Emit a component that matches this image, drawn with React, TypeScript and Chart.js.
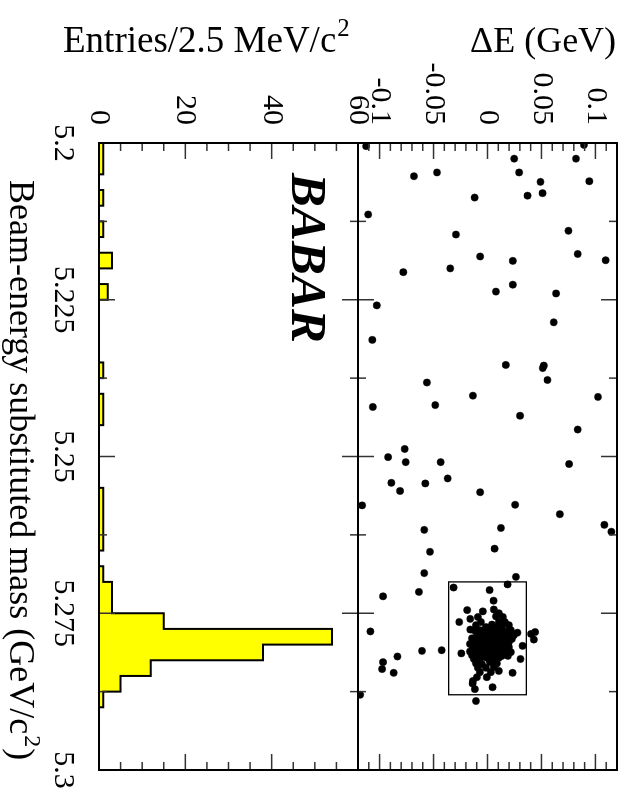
import { useEffect, useRef } from 'react';
import { Chart, registerables } from 'chart.js';

Chart.register(...registerables);

// ---- data ----
const massMin = 5.2;
const massMax = 5.3;
const massBinWidth = 0.0025;
const entriesPerBin = [
  1, 1, 0, 1, 0, 1, 0, 3, 0, 2,
  0, 0, 0, 0, 1, 0, 1, 1, 0, 0,
  0, 0, 1, 1, 1, 1, 0, 1, 3, 3,
  15, 54, 38, 12, 5, 1, 0, 0, 0, 0,
];
const massTicks = [5.2, 5.225, 5.25, 5.275, 5.3];
const entriesTicks = [0, 20, 40, 60];
const deltaETicks = [-0.1, -0.05, 0, 0.05, 0.1];
const entriesRange = [0, 60];
const deltaERange = [-0.12, 0.12];

// [mES (GeV/c^2), DeltaE (GeV)]
const sidebandEvents: [number, number][] = [
  [5.2005, -0.1125], [5.2003, 0.0894], [5.2025, 0.0247], [5.2025, 0.082], [5.2053, -0.0681],
  [5.2047, -0.0468], [5.2047, 0.0293], [5.2062, 0.0491], [5.2061, 0.0944], [5.2087, -0.0119],
  [5.2084, 0.0371], [5.208, 0.051], [5.2114, -0.1106], [5.214, 0.075], [5.2146, -0.0292],
  [5.2181, -0.0068], [5.2188, 0.0235], [5.2177, 0.0836], [5.2187, 0.1095], [5.2206, -0.078],
  [5.22, -0.0345], [5.2226, 0.0235], [5.2237, 0.0078], [5.224, 0.0635], [5.2259, -0.1026],
  [5.2286, 0.0614], [5.2314, -0.1067], [5.2354, 0.017], [5.2355, 0.0522], [5.2359, 0.0512],
  [5.2378, 0.0556], [5.2382, -0.0561], [5.2403, -0.0135], [5.2405, 0.1024], [5.2421, -0.1063],
  [5.2418, -0.0484], [5.2435, 0.0302], [5.2457, 0.0836], [5.2488, -0.0767], [5.2501, -0.0921],
  [5.2509, -0.0758], [5.2509, -0.0434], [5.2512, 0.0756], [5.2542, -0.0891], [5.2543, -0.0576],
  [5.2535, -0.0369], [5.2555, -0.081], [5.2557, -0.0068], [5.2578, -0.1162], [5.2577, 0.0256],
  [5.2592, 0.067], [5.2609, 0.1083], [5.262, 0.1148], [5.2617, -0.0586], [5.2614, 0.0124],
  [5.2652, -0.0533], [5.2647, 0.0066], [5.2686, -0.0586], [5.2692, 0.0263],
  [5.2704, 0.0186], [5.2709, -0.0314], [5.2713, 0.0019], [5.2723, -0.0968], [5.2716, -0.0635],
  [5.273, 0.0056], [5.2779, -0.1085], [5.281, -0.0607], [5.2809, -0.0425], [5.2819, -0.0835],
  [5.2828, -0.0968], [5.2839, -0.0977], [5.2845, -0.0869], [5.288, -0.118], [5.289, -0.0107],
  [5.2868, 0.0047], [5.2845, 0.0232], [5.2823, 0.0306], [5.2802, 0.0325], [5.2783, 0.0404],
  [5.278, 0.0441], [5.2792, 0.0429], [5.2781, 0.0278], [5.2764, -0.0262], [5.2745, -0.0188],
  [5.2759, -0.016], [5.2776, -0.016], [5.2814, -0.0243], [5.2871, -0.0117], [5.2862, -0.0138],
];

const signalEvents: [number, number][] = [
  [5.2747, -0.0043], [5.2744, 0.0059], [5.275, 0.0105], [5.2756, -0.0089], [5.2756, 0.0142], [5.2755, 0.0078],
  [5.2764, -0.0061], [5.2769, -0.0107], [5.2768, 0.0041], [5.2764, 0.0105], [5.2764, 0.0161], [5.2772, -0.0015],
  [5.2772, 0.0068], [5.2771, 0.0133], [5.2769, 0.0198],
  [5.2777, -0.0126], [5.2777, -0.007], [5.2777, -0.0024], [5.2775, 0.0022], [5.2777, 0.0068], [5.2775, 0.0115],
  [5.2779, 0.0161], [5.2777, 0.0216],
  [5.2784, -0.0098], [5.2784, -0.0043], [5.2782, 0.0004], [5.2784, 0.005], [5.2784, 0.0096], [5.2785, 0.0142],
  [5.2784, 0.0189], [5.2785, 0.0244],
  [5.279, -0.0144], [5.279, -0.008], [5.279, -0.0024], [5.2788, 0.0022], [5.279, 0.0078], [5.2791, 0.0124],
  [5.279, 0.017], [5.2791, 0.0226],
  [5.2795, -0.0117], [5.2796, -0.0061], [5.2795, -0.0006], [5.2795, 0.005], [5.2796, 0.0096], [5.2796, 0.0152],
  [5.2796, 0.0198],
  [5.2799, -0.0163], [5.2799, -0.0089], [5.2799, -0.0033], [5.2799, 0.0022], [5.2799, 0.0068], [5.2801, 0.0115],
  [5.2799, 0.0179],
  [5.2787, 0.0004], [5.278, 0.0059], [5.2793, 0.0087], [5.2793, -0.0052], [5.2791, 0.0031], [5.2798, -0.0015],
  [5.2793, 0.0142],
  [5.2804, -0.0135], [5.2804, -0.008], [5.2806, -0.0024], [5.2804, 0.0031], [5.2804, 0.0087], [5.2806, 0.0142],
  [5.2804, 0.0198],
  [5.2811, -0.0163], [5.2811, -0.0107], [5.2812, -0.0052], [5.2811, 0.0004], [5.2811, 0.0059], [5.2812, 0.0115],
  [5.2811, 0.017],
  [5.2817, -0.0144], [5.2817, -0.0089], [5.2818, -0.0033], [5.2817, 0.0022], [5.2817, 0.0078], [5.2818, 0.0133],
  [5.2823, -0.0126], [5.2823, -0.007], [5.2821, -0.0006], [5.2823, 0.005], [5.2821, 0.0105],
  [5.2812, 0.0216], [5.2818, 0.0189], [5.2807, 0.0013], [5.2814, 0.0068], [5.2807, -0.0061],
  [5.283, -0.0107], [5.2831, -0.0052], [5.2828, 0.0022], [5.283, 0.0087], [5.2837, -0.0089], [5.2837, -0.0015],
  [5.2836, 0.0059], [5.2844, -0.007], [5.2844, 0.0031], [5.2842, 0.0105],
  [5.2852, -0.0098], [5.2852, -0.0006], [5.2858, -0.0135],
];

const signalBox = { massLow: 5.27, massHigh: 5.288, deLow: -0.036, deHigh: 0.036 };

const massMinorStep = 0.0125;
const entriesMinorStep = 5;
const deltaEMinorStep = 0.01;

const serif = "'Liberation Serif', 'Times New Roman', serif";

function buildHistogram() {
  const pts: { x: number; y: number }[] = [];
  entriesPerBin.forEach((v, i) => {
    pts.push({ x: massMin + i * massBinWidth, y: v });
    pts.push({ x: massMin + (i + 1) * massBinWidth, y: v });
  });
  pts.push({ x: massMax, y: 0 });
  return pts;
}

const decorPlugin = {
  id: 'decor',
  afterDraw(chart: any) {
    const ctx: CanvasRenderingContext2D = chart.ctx;
    const xs = chart.scales.x;
    const yh = chart.scales.y;
    const yd = chart.scales.yde;
    const line = (x1: number, y1: number, x2: number, y2: number) => {
      ctx.beginPath();
      ctx.moveTo(x1, y1);
      ctx.lineTo(x2, y2);
      ctx.stroke();
    };
    ctx.save();
    ctx.strokeStyle = '#333';
    // ticks
    ctx.lineWidth = 1.5;
    const nMass = Math.round((massMax - massMin) / massMinorStep);
    for (let k = 0; k <= nMass; k++) {
      const px = xs.getPixelForValue(massMin + k * massMinorStep);
      const len = k % 2 === 0 ? 16 : 8;
      line(px, yh.bottom, px, yh.bottom - len);
      line(px, yh.top - len, px, yh.top + len);
      line(px, yd.top, px, yd.top + len);
    }
    for (let v = entriesRange[0]; v <= entriesRange[1]; v += entriesMinorStep) {
      const py = yh.getPixelForValue(v);
      const len = v % 20 === 0 ? 16 : 8;
      line(xs.left, py, xs.left + len, py);
      line(xs.right, py, xs.right - len, py);
    }
    const nDe = Math.round((deltaERange[1] - deltaERange[0]) / deltaEMinorStep);
    for (let k = 0; k <= nDe; k++) {
      const v = deltaERange[0] + k * deltaEMinorStep;
      const r = v / 0.05;
      const major = Math.abs(r - Math.round(r)) < 1e-6;
      const py = yd.getPixelForValue(v);
      const len = major ? 16 : 8;
      line(xs.left, py, xs.left + len, py);
      line(xs.right, py, xs.right - len, py);
    }
    // frames
    ctx.strokeStyle = '#000';
    ctx.lineWidth = 2;
    ctx.strokeRect(xs.left, yd.top, xs.right - xs.left, yh.bottom - yd.top);
    line(xs.left, yh.top, xs.right, yh.top);
    // signal box
    ctx.lineWidth = 1.3;
    const bx1 = xs.getPixelForValue(signalBox.massLow);
    const bx2 = xs.getPixelForValue(signalBox.massHigh);
    const by1 = yd.getPixelForValue(signalBox.deHigh);
    const by2 = yd.getPixelForValue(signalBox.deLow);
    ctx.strokeRect(bx1, by1, bx2 - bx1, by2 - by1);

    // titles
    ctx.fillStyle = '#000';
    ctx.textBaseline = 'alphabetic';
    ctx.textAlign = 'left';
    const supText = (main: string, sup: string, tail: string, size: number) => {
      ctx.font = `${size}px ${serif}`;
      ctx.fillText(main, 0, 0);
      let w = ctx.measureText(main).width;
      ctx.font = `${Math.round(size * 0.68)}px ${serif}`;
      ctx.fillText(sup, w + 1, -size * 0.42);
      w += ctx.measureText(sup).width + 2;
      if (tail) {
        ctx.font = `${size}px ${serif}`;
        ctx.fillText(tail, w, 0);
      }
    };
    // Entries title
    ctx.save();
    ctx.translate(52, 562);
    ctx.rotate(-Math.PI / 2);
    supText('Entries/2.5 MeV/c', '2', '', 37);
    ctx.restore();
    // Delta E title
    ctx.save();
    ctx.translate(52, 155);
    ctx.rotate(-Math.PI / 2);
    ctx.font = `36px ${serif}`;
    ctx.fillText('\u0394E (GeV)', 0, 0);
    ctx.restore();
    // mass title
    ctx.save();
    ctx.translate(180, 615);
    supText('Beam-energy substituted mass (GeV/c', '2', ')', 36);
    ctx.restore();
    // BABAR
    ctx.font = `italic bold 51px ${serif}`;
    ctx.fillText('BABAR', 173, 333);
    ctx.restore();
  },
};

export default function App() {
  const ref = useRef<HTMLCanvasElement>(null);
  useEffect(() => {
    const canvas = ref.current;
    if (!canvas) return;
    const tickFont = { family: serif, size: 30 };
    const chart = new Chart(canvas, {
      type: 'scatter',
      data: {
        datasets: [
          {
            type: 'line',
            data: buildHistogram(),
            yAxisID: 'y',
            borderColor: '#000',
            borderWidth: 2,
            backgroundColor: '#ffff00',
            fill: 'origin',
            pointRadius: 0,
            tension: 0,
          } as any,
          {
            type: 'scatter',
            data: [...sidebandEvents, ...signalEvents].map(([m, e]) => ({ x: m, y: e })),
            yAxisID: 'yde',
            backgroundColor: '#000',
            borderColor: '#000',
            borderWidth: 0.5,
            pointRadius: 3.6,
            clip: 0,
          } as any,
        ],
      },
      options: {
        animation: false,
        responsive: false,
        devicePixelRatio: 1,
        events: [],
        layout: { padding: { top: 8, right: 29, left: 0, bottom: 0 } },
        plugins: { legend: { display: false }, tooltip: { enabled: false } },
        scales: {
          x: {
            type: 'linear',
            position: 'bottom',
            min: massMin,
            max: massMax,
            grid: { display: false, drawTicks: false },
            border: { display: false },
            afterBuildTicks: (s: any) => { s.ticks = massTicks.map((v) => ({ value: v })); },
            afterFit: (s: any) => { s.height = 99; s.paddingLeft = 0; s.paddingRight = 0; },
            ticks: {
              autoSkip: false,
              maxRotation: 0,
              minRotation: 0,
              padding: 18,
              color: '#000',
              font: tickFont,
              callback: (v: any) => String(Number(Number(v).toFixed(4))),
            },
          },
          y: {
            type: 'linear',
            axis: 'y',
            position: 'left',
            stack: 'panels',
            stackWeight: 1,
            min: entriesRange[0],
            max: entriesRange[1],
            grid: { display: false, drawTicks: false },
            border: { display: false },
            afterBuildTicks: (s: any) => { s.ticks = entriesTicks.map((v) => ({ value: v })); },
            afterFit: (s: any) => { s.width = 143; s.paddingTop = 0; s.paddingBottom = 0; },
            ticks: { autoSkip: false, padding: 18, color: '#000', font: tickFont, callback: (v: any) => String(v) },
          },
          yde: {
            type: 'linear',
            axis: 'y',
            position: 'left',
            stack: 'panels',
            stackWeight: 1,
            min: deltaERange[0],
            max: deltaERange[1],
            grid: { display: false, drawTicks: false },
            border: { display: false },
            afterBuildTicks: (s: any) => { s.ticks = deltaETicks.map((v) => ({ value: v })); },
            afterFit: (s: any) => { s.width = 143; s.paddingTop = 0; s.paddingBottom = 0; },
            ticks: {
              autoSkip: false,
              padding: 18,
              color: '#000',
              font: tickFont,
              callback: (v: any) => String(Number(Number(v).toFixed(3))),
            },
          },
        } as any,
      },
      plugins: [decorPlugin],
    } as any);
    return () => chart.destroy();
  }, []);
  return (
    <div style={{ position: 'fixed', left: 0, top: 0, width: 625, height: 799, overflow: 'hidden', background: '#fff' }}>
      <canvas
        ref={ref}
        width={799}
        height={625}
        style={{
          position: 'absolute',
          left: 0,
          top: 0,
          width: 799,
          height: 625,
          transformOrigin: '0 0',
          transform: 'translate(625px, 0px) rotate(90deg)',
        }}
      />
    </div>
  );
}
